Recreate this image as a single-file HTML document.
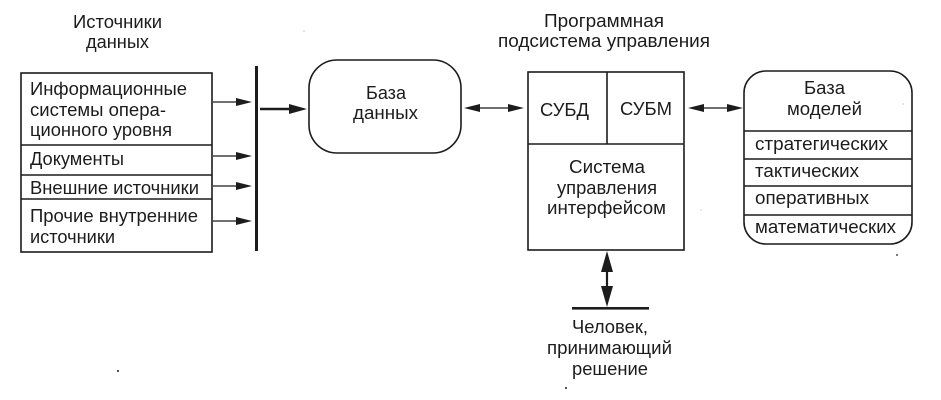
<!DOCTYPE html>
<html lang="ru">
<head>
<meta charset="utf-8">
<style>
html,body{margin:0;padding:0;background:#fff;width:941px;height:400px;overflow:hidden}
svg{display:block}
text{font-family:"Liberation Sans",sans-serif;font-size:18.5px;fill:#1c1c1c}
.s{fill:none;stroke:#1c1c1c;stroke-width:1.6}
.a{fill:#1c1c1c;stroke:none}
</style>
</head>
<body>
<svg width="941" height="400" viewBox="0 0 941 400" xmlns="http://www.w3.org/2000/svg">
<rect width="941" height="400" fill="#fff"/>

<!-- Sources -->
<text x="73" y="28" textLength="89" lengthAdjust="spacingAndGlyphs">Источники</text>
<text x="86" y="48" textLength="63" lengthAdjust="spacingAndGlyphs">данных</text>
<rect class="s" x="21" y="73" width="191" height="179"/>
<path class="s" d="M21 145H212M21 175H212M21 199H212"/>
<text x="30" y="95" textLength="157" lengthAdjust="spacingAndGlyphs">Информационные</text>
<text x="30" y="116" textLength="136" lengthAdjust="spacingAndGlyphs">системы опера-</text>
<text x="30" y="136" textLength="142" lengthAdjust="spacingAndGlyphs">ционного уровня</text>
<text x="30" y="165" textLength="94" lengthAdjust="spacingAndGlyphs">Документы</text>
<text x="30" y="194" textLength="169" lengthAdjust="spacingAndGlyphs">Внешние источники</text>
<text x="30" y="222" textLength="168" lengthAdjust="spacingAndGlyphs">Прочие внутренние</text>
<text x="30" y="243" textLength="85" lengthAdjust="spacingAndGlyphs">источники</text>

<!-- Arrows to bar -->
<path class="s" style="stroke-width:1.2" d="M213 102H240M213 156H240M213 186H240M213 221H240"/>
<path class="a" d="M252 102L236 98V106ZM252 156L236 152V160ZM252 186L236 182V190ZM252 221L236 217V225Z"/>
<rect class="a" x="255" y="66" width="3" height="185"/>
<path class="s" style="stroke-width:2.4" d="M260 109H295"/>
<path class="a" d="M307 109L289 104V114Z"/>

<!-- DB -->
<rect class="s" x="309" y="60" width="152" height="93" rx="28" ry="28"/>
<text x="366" y="99" textLength="40" lengthAdjust="spacingAndGlyphs">База</text>
<text x="353" y="119" textLength="65" lengthAdjust="spacingAndGlyphs">данных</text>
<path class="s" style="stroke-width:1.2" d="M470 108H520"/>
<path class="a" d="M464 108L480 104V112ZM524 108L508 104V112Z"/>

<!-- Control subsystem -->
<text x="544" y="27" textLength="120" lengthAdjust="spacingAndGlyphs">Программная</text>
<text x="498" y="47" textLength="212" lengthAdjust="spacingAndGlyphs">подсистема управления</text>
<rect class="s" x="528" y="72" width="156" height="178"/>
<path class="s" d="M607 72V144M528 144H684"/>
<text x="540" y="116" textLength="49" lengthAdjust="spacingAndGlyphs">СУБД</text>
<text x="620" y="115" textLength="52" lengthAdjust="spacingAndGlyphs">СУБМ</text>
<text x="569" y="173" textLength="76" lengthAdjust="spacingAndGlyphs">Система</text>
<text x="557" y="194" textLength="100" lengthAdjust="spacingAndGlyphs">управления</text>
<text x="547" y="214" textLength="119" lengthAdjust="spacingAndGlyphs">интерфейсом</text>
<path class="s" style="stroke-width:1.2" d="M692 108H738"/>
<path class="a" d="M688 108L704 104V112ZM743 108L727 104V112Z"/>

<!-- Models -->
<rect class="s" x="744" y="71" width="168" height="173" rx="22" ry="22"/>
<path class="s" d="M744 131H912M744 159H912M744 186H912M744 215H912"/>
<text x="804" y="94" textLength="41" lengthAdjust="spacingAndGlyphs">База</text>
<text x="787" y="115" textLength="75" lengthAdjust="spacingAndGlyphs">моделей</text>
<text x="755" y="150" textLength="133" lengthAdjust="spacingAndGlyphs">стратегических</text>
<text x="755" y="177" textLength="104" lengthAdjust="spacingAndGlyphs">тактических</text>
<text x="755" y="204" textLength="114" lengthAdjust="spacingAndGlyphs">оперативных</text>
<text x="755" y="233" textLength="141" lengthAdjust="spacingAndGlyphs">математических</text>

<!-- Person -->
<path class="s" style="stroke-width:2.2" d="M607 265V295"/>
<path class="a" d="M607 251L601 272H613ZM607 307L601 286H613Z"/>
<rect class="a" x="572" y="307" width="77" height="2.6"/>
<text x="572" y="333" textLength="76" lengthAdjust="spacingAndGlyphs">Человек,</text>
<text x="547" y="354" textLength="125" lengthAdjust="spacingAndGlyphs">принимающий</text>
<text x="572" y="375" textLength="76" lengthAdjust="spacingAndGlyphs">решение</text>

<!-- Specks -->
<circle class="a" cx="118" cy="371" r="1"/>
<circle class="a" cx="566" cy="388" r="1"/>
<circle class="a" cx="897" cy="255" r="0.9"/>
<circle cx="304" cy="31" r="0.6" fill="#999"/>
<circle cx="903" cy="104" r="0.6" fill="#999"/>
<circle cx="701" cy="210" r="0.6" fill="#bbb"/>
</svg>
</body>
</html>
